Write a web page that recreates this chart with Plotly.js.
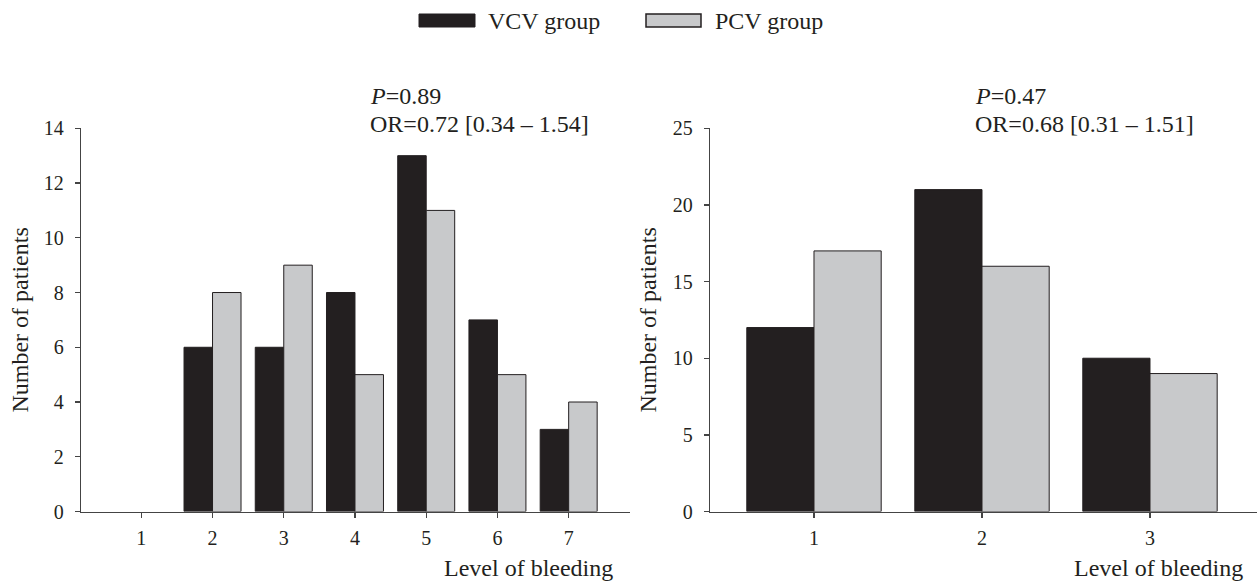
<!DOCTYPE html>
<html>
<head>
<meta charset="utf-8">
<script src="https://cdn.plot.ly/plotly-3.0.1.min.js"></script>
<style>html,body{margin:0;padding:0;background:#fff;}#chart{width:1259px;height:583px;}</style>
</head>
<body>
<div id="chart"></div>
<script>
// ---- data ----
const levelsA = [1, 2, 3, 4, 5, 6, 7];
const vcvA = [0, 6, 6, 8, 13, 7, 3];
const pcvA = [0, 8, 9, 5, 11, 5, 4];

const levelsB = [1, 2, 3];
const vcvB = [12, 21, 10];
const pcvB = [17, 16, 9];

const seriesNames = ['VCV group', 'PCV group'];
const statsA = ['<i>P</i>=0.89', 'OR=0.72 [0.34 – 1.54]'];
const statsB = ['<i>P</i>=0.47', 'OR=0.68 [0.31 – 1.51]'];
const xTitle = 'Level of bleeding';
const yTitle = 'Number of patients';

// ---- styling ----
const W = 1259, H = 583;
const FONT = '"Liberation Serif", "Times New Roman", serif';
const INK = '#231f20';
const DARK = '#231f20';
const GREY = '#c8c9cb';

// no outline on empty (zero) bars
const outline = vals => vals.map(v => (v > 0 ? 1 : 0));

const traces = [
  {type: 'bar', x: levelsA, y: vcvA, name: seriesNames[0], xaxis: 'x', yaxis: 'y',
   marker: {color: DARK, line: {color: INK, width: outline(vcvA)}}, showlegend: false},
  {type: 'bar', x: levelsA, y: pcvA, name: seriesNames[1], xaxis: 'x', yaxis: 'y',
   marker: {color: GREY, line: {color: INK, width: outline(pcvA)}}, showlegend: false},
  {type: 'bar', x: levelsB, y: vcvB, name: seriesNames[0], xaxis: 'x2', yaxis: 'y2',
   marker: {color: DARK, line: {color: INK, width: outline(vcvB)}}, showlegend: false},
  {type: 'bar', x: levelsB, y: pcvB, name: seriesNames[1], xaxis: 'x2', yaxis: 'y2',
   marker: {color: GREY, line: {color: INK, width: outline(pcvB)}}, showlegend: false}
];

const px = v => v / W;
const py = v => 1 - v / H;
const domY = [py(511.5), py(128.3)];

const xBase = {
  showline: true, linecolor: '#444', linewidth: 1.3, ticks: 'outside', ticklen: 5,
  tickcolor: '#444', tickwidth: 1.3, showgrid: false, zeroline: false,
  tickfont: {family: FONT, size: 20, color: INK}, ticklabelstandoff: 3,
  fixedrange: true
};
const yBase = {
  showline: true, linecolor: '#444', linewidth: 1.3, ticks: 'outside', ticklen: 5,
  tickcolor: '#444', tickwidth: 1.3, showgrid: false, zeroline: false,
  tickfont: {family: FONT, size: 20, color: INK}, ticklabelstandoff: 7,
  domain: domY, fixedrange: true
};

const layout = {
  width: W, height: H,
  margin: {l: 0, r: 0, t: 0, b: 0},
  paper_bgcolor: '#fff', plot_bgcolor: '#fff',
  barmode: 'group', bargap: 0.2, bargroupgap: 0,
  showlegend: false,
  font: {family: FONT, color: INK},
  xaxis: Object.assign({}, xBase, {domain: [px(81), px(629.5)], range: [0.1535, 7.854],
    tickvals: levelsA, anchor: 'y'}),
  yaxis: Object.assign({}, yBase, {range: [0, 14], tickvals: [0, 2, 4, 6, 8, 10, 12, 14], anchor: 'x',
    title: {text: yTitle, font: {family: FONT, size: 24, color: INK}, standoff: 8}}),
  xaxis2: Object.assign({}, xBase, {domain: [px(710), px(1257)], range: [0.381, 3.637],
    tickvals: levelsB, anchor: 'y2'}),
  yaxis2: Object.assign({}, yBase, {range: [0, 25], tickvals: [0, 5, 10, 15, 20, 25], anchor: 'x2',
    title: {text: yTitle, font: {family: FONT, size: 24, color: INK}, standoff: 9}}),
  shapes: [
    {type: 'rect', xref: 'paper', yref: 'paper', x0: px(419), x1: px(475), y0: py(27), y1: py(14),
     fillcolor: DARK, line: {color: INK, width: 1}},
    {type: 'rect', xref: 'paper', yref: 'paper', x0: px(646), x1: px(701), y0: py(27), y1: py(14),
     fillcolor: GREY, line: {color: INK, width: 1.5}}
  ],
  annotations: [
    {xref: 'paper', yref: 'paper', x: px(486), y: py(20.5), xanchor: 'left', yanchor: 'middle',
     text: seriesNames[0], showarrow: false, font: {family: FONT, size: 24, color: INK}},
    {xref: 'paper', yref: 'paper', x: px(713), y: py(20.5), xanchor: 'left', yanchor: 'middle',
     text: seriesNames[1], showarrow: false, font: {family: FONT, size: 24, color: INK}},
    {xref: 'paper', yref: 'paper', x: px(368), y: py(96), xanchor: 'left', yanchor: 'middle',
     text: statsA[0], showarrow: false, font: {family: FONT, size: 24, color: INK}},
    {xref: 'paper', yref: 'paper', x: px(368), y: py(124), xanchor: 'left', yanchor: 'middle',
     text: statsA[1], showarrow: false, font: {family: FONT, size: 24, color: INK}},
    {xref: 'paper', yref: 'paper', x: px(973), y: py(96), xanchor: 'left', yanchor: 'middle',
     text: statsB[0], showarrow: false, font: {family: FONT, size: 24, color: INK}},
    {xref: 'paper', yref: 'paper', x: px(973), y: py(124), xanchor: 'left', yanchor: 'middle',
     text: statsB[1], showarrow: false, font: {family: FONT, size: 24, color: INK}},
    {xref: 'paper', yref: 'paper', x: px(615), y: 0, xanchor: 'right', yanchor: 'bottom',
     text: xTitle, showarrow: false, font: {family: FONT, size: 24, color: INK}},
    {xref: 'paper', yref: 'paper', x: px(1245), y: 0, xanchor: 'right', yanchor: 'bottom',
     text: xTitle, showarrow: false, font: {family: FONT, size: 24, color: INK}}
  ]
};

Plotly.newPlot('chart', traces, layout, {displayModeBar: false, staticPlot: true});
</script>
</body>
</html>
